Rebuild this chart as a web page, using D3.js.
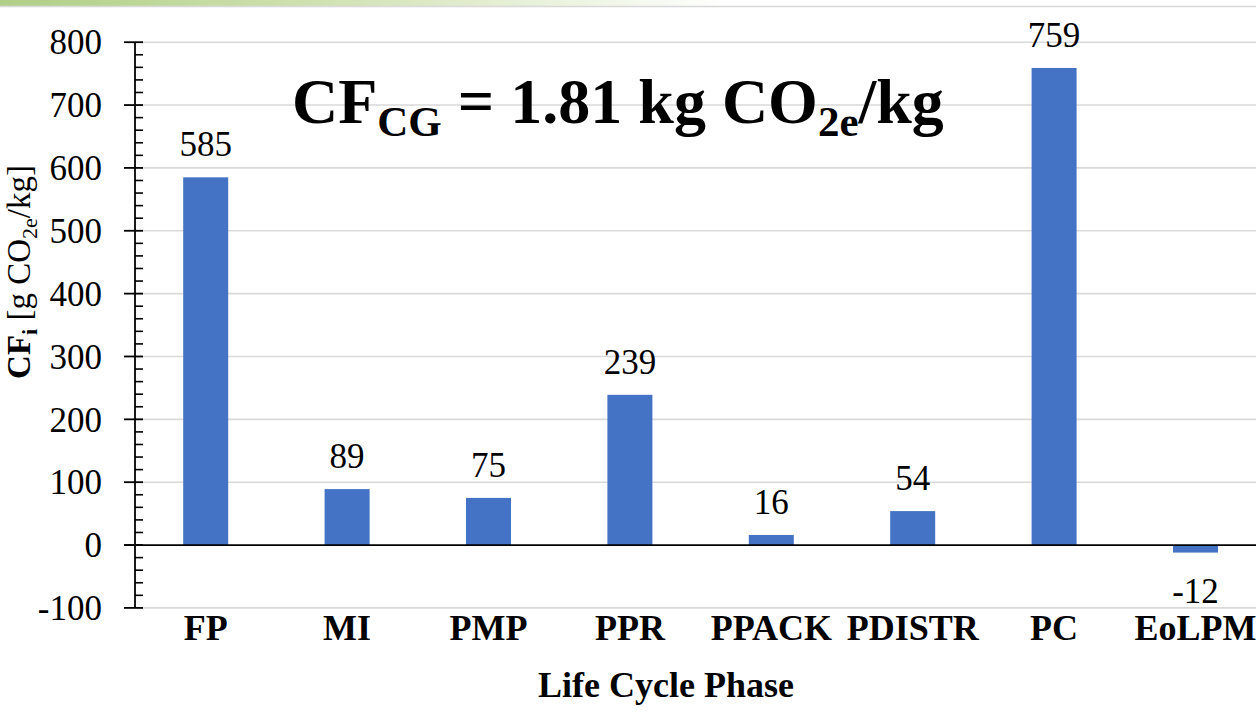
<!DOCTYPE html>
<html>
<head>
<meta charset="utf-8">
<script src="https://cdn.jsdelivr.net/npm/d3@7/dist/d3.min.js"></script>
<style>
  html, body { margin: 0; padding: 0; background: #fff; }
  svg { display: block; }
</style>
</head>
<body>
<svg id="chart" width="1256" height="722" font-family="Liberation Serif, Times New Roman, serif"></svg>
<script>
const categories = ["FP", "MI", "PMP", "PPR", "PPACK", "PDISTR", "PC", "EoLPM"];
const values = [585, 89, 75, 239, 16, 54, 759, -12];
const yTicks = [-100, 0, 100, 200, 300, 400, 500, 600, 700, 800];
const yMinorTicks = d3.range(-100, 801, 20);

const W = 1256, H = 722;
const svg = d3.select("#chart");

// top decorative band
const defs = svg.append("defs");
const grad = defs.append("linearGradient").attr("id", "topband").attr("x1", "0").attr("x2", "1").attr("y1", "0").attr("y2", "0");
grad.append("stop").attr("offset", "0%").attr("stop-color", "#b0cf86");
grad.append("stop").attr("offset", "25%").attr("stop-color", "#cfe1b0");
grad.append("stop").attr("offset", "58%").attr("stop-color", "#ffffff");
svg.append("rect").attr("x", 0).attr("y", 0).attr("width", W).attr("height", 6).attr("fill", "url(#topband)");
svg.append("rect").attr("x", 0).attr("y", 5.7).attr("width", W).attr("height", 1.6).attr("fill", "#d9d9d9");

const axisX = 135;
const x = d3.scaleBand().domain(categories).range([axisX, axisX + 8 * 141.4]).paddingInner(0).paddingOuter(0);
const y = d3.scaleLinear().domain([-100, 800]).range([607.9, 42.2]);
const barW = 45;

// gridlines
svg.append("g").selectAll("line").data(yTicks.filter(d => d !== 0)).join("line")
  .attr("x1", axisX).attr("x2", W)
  .attr("y1", d => y(d)).attr("y2", d => y(d))
  .attr("stroke", "#d9d9d9").attr("stroke-width", 1.6);

// bars
svg.append("g").selectAll("rect").data(values).join("rect")
  .attr("x", (d, i) => x(categories[i]) + x.bandwidth() / 2 - barW / 2)
  .attr("width", barW)
  .attr("y", d => y(Math.max(0, d)))
  .attr("height", d => Math.abs(y(d) - y(0)))
  .attr("fill", "#4472c4");

// zero line (category axis)
svg.append("line").attr("x1", 124).attr("x2", W).attr("y1", y(0)).attr("y2", y(0))
  .attr("stroke", "#000").attr("stroke-width", 1.8);

// y axis with major and minor ticks
const yAxisG = svg.append("g").attr("transform", `translate(${axisX},0)`);
yAxisG.append("line").attr("x1", 0).attr("x2", 0).attr("y1", y(800)).attr("y2", y(-100)).attr("stroke", "#000").attr("stroke-width", 1.8);
yAxisG.selectAll("line.minor").data(yMinorTicks.filter(d => d % 100 !== 0)).join("line").attr("class", "minor")
  .attr("x1", 0).attr("x2", 8).attr("y1", d => y(d)).attr("y2", d => y(d)).attr("stroke", "#000").attr("stroke-width", 1.6);
yAxisG.selectAll("line.major").data(yTicks).join("line").attr("class", "major")
  .attr("x1", -11).attr("x2", 8).attr("y1", d => y(d)).attr("y2", d => y(d)).attr("stroke", "#000").attr("stroke-width", 1.8);
yAxisG.selectAll("text").data(yTicks).join("text")
  .attr("x", -33).attr("y", d => y(d)).attr("dy", "0.35em")
  .attr("text-anchor", "end").attr("font-size", 35)
  .text(d => d);

// category labels
svg.append("g").selectAll("text").data(categories).join("text")
  .attr("x", d => x(d) + x.bandwidth() / 2).attr("y", 640)
  .attr("text-anchor", "middle").attr("font-size", 36).attr("font-weight", "bold")
  .text(d => d);

// value labels
svg.append("g").selectAll("text").data(values).join("text")
  .attr("x", (d, i) => x(categories[i]) + x.bandwidth() / 2)
  .attr("y", d => d >= 0 ? y(d) - 21 : y(d) + 50)
  .attr("text-anchor", "middle").attr("font-size", 35)
  .text(d => d);

// x axis title
svg.append("text").attr("x", 666).attr("y", 697).attr("text-anchor", "middle")
  .attr("font-size", 36).attr("font-weight", "bold").text("Life Cycle Phase");

// y axis title
const yt = svg.append("text").attr("transform", "translate(30,272) rotate(-90)").attr("text-anchor", "middle").attr("font-size", 33);
yt.append("tspan").attr("font-weight", "bold").text("CF");
yt.append("tspan").attr("font-weight", "bold").attr("font-size", 22).attr("dy", 7).text("i");
yt.append("tspan").attr("dy", -7).text(" [g CO");
yt.append("tspan").attr("font-size", 22).attr("dy", 7).text("2e");
yt.append("tspan").attr("dy", -7).text("/kg]");

// title annotation
const tt = svg.append("text").attr("x", 292).attr("y", 123).attr("font-size", 64).attr("font-weight", "bold");
tt.append("tspan").text("CF");
tt.append("tspan").attr("font-size", 43).attr("dy", 13).text("CG");
tt.append("tspan").attr("dy", -13).text(" = 1.81 kg CO");
tt.append("tspan").attr("font-size", 43).attr("dy", 13).text("2e");
tt.append("tspan").attr("dy", -13).text("/kg");
</script>
</body>
</html>
